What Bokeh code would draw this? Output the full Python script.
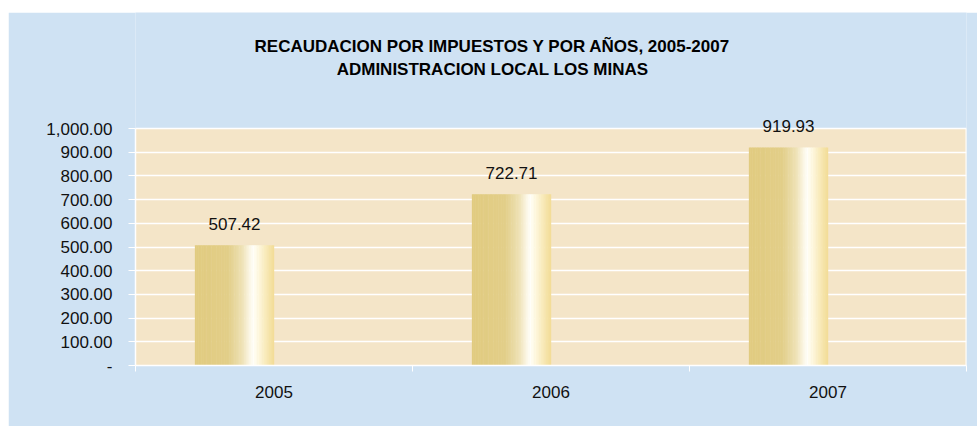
from bokeh.plotting import figure
from bokeh.models import (ColumnDataSource, Range1d, FactorRange, FixedTicker, LinearAxis,
                          CategoricalAxis, Label, LabelSet, BoxAnnotation)
from bokeh.transform import dodge
from bokeh.core.properties import value
from bokeh.embed import file_html
from bokeh.resources import INLINE

# ---- data ----
years = ["2005", "2006", "2007"]
amounts = [507.42, 722.71, 919.93]
y_ticks = [0, 100, 200, 300, 400, 500, 600, 700, 800, 900, 1000]
title_lines = ["RECAUDACION POR IMPUESTOS Y POR AÑOS, 2005-2007",
               "ADMINISTRACION LOCAL LOS MINAS"]

labels = [f"{v:,.2f}" for v in amounts]
src = ColumnDataSource(dict(year=years, amount=amounts, label=labels))

FONT = "Liberation Sans"
BLUE = "#CFE2F3"
PLOT_BG = "#F4E5C8"

# layout (pixels)
W, H = 969, 414
LEFT, RIGHT, BOTTOM = 127, 11, 61
PLOT_PX = 237          # height of the 0..max-tick plot area
TOP_PX = H - BOTTOM - PLOT_PX   # blue space above the plot area (holds the titles)
y_max = y_ticks[-1]
y_end = y_max * (PLOT_PX + TOP_PX) / PLOT_PX


def px_from_top(px):
    return y_end - px * y_max / PLOT_PX


p = figure(width=W, height=H, x_range=FactorRange(*years, range_padding=0),
           y_range=Range1d(0, y_end), output_backend="svg", toolbar_location=None,
           x_axis_location=None, y_axis_location=None,
           min_border_left=LEFT, min_border_right=RIGHT, min_border_top=0,
           min_border_bottom=BOTTOM)
p.margin = (12, 0, 0, 8)
p.background_fill_color = BLUE
p.border_fill_color = BLUE
p.outline_line_color = None

# beige plot area (0..max tick), drawn beneath grid and bars
area = BoxAnnotation(bottom=0, top=y_max, fill_color=PLOT_BG, fill_alpha=1,
                     line_color=None, level="underlay")
p.center = [area] + list(p.center)

# titles
for txt, px in zip(title_lines, [33.5, 56.5]):
    p.add_layout(Label(x=357, x_units="screen", y=px_from_top(px), text=txt,
                       text_align="center", text_baseline="middle", text_font=FONT,
                       text_font_size="17px", text_font_style="bold", text_color="black"))

# y axis
yax = LinearAxis(ticker=FixedTicker(ticks=y_ticks), bounds=(0, y_max))
yax.major_label_overrides = {tk: ("-" if tk == 0 else f"{tk:,.2f}") for tk in y_ticks}
yax.axis_line_color = "white"
yax.axis_line_width = 1.5
yax.major_tick_line_color = "white"
yax.major_tick_out = 7
yax.major_tick_in = 0
yax.minor_tick_line_color = None
yax.major_label_text_font = FONT
yax.major_label_text_font_size = "17px"
yax.major_label_text_color = "#111111"
yax.major_label_standoff = 16
p.add_layout(yax, "left")

p.ygrid.grid_line_color = "white"
p.ygrid.grid_line_width = 1.5
p.ygrid.ticker = FixedTicker(ticks=y_ticks)
p.xgrid.grid_line_color = None

# right border of plot area
p.segment(x0=[len(years)], y0=[0], x1=[len(years)], y1=[y_max],
          line_color="white", line_width=2)

# x axis: boundary ticks (synthetic category coordinates) + category labels
bounds = list(range(len(years) + 1))
bx = LinearAxis(ticker=FixedTicker(ticks=bounds))
bx.major_label_overrides = {i: "" for i in bounds}
bx.major_label_text_font_size = "1px"
bx.major_label_standoff = 0
bx.axis_line_color = "white"
bx.axis_line_width = 1.5
bx.major_tick_line_color = "white"
bx.major_tick_out = 6
bx.major_tick_in = 0
bx.minor_tick_line_color = None
p.add_layout(bx, "below")

cx = CategoricalAxis()
cx.axis_line_color = None
cx.major_tick_line_color = None
cx.major_label_text_font = FONT
cx.major_label_text_font_size = "17px"
cx.major_label_text_color = "#111111"
cx.major_label_standoff = 8
p.add_layout(cx, "below")

# gradient bars built from vertical strips
BAR_W = 0.285
stops = [(0.0, (225, 203, 128)), (0.42, (226, 206, 136)), (0.60, (238, 226, 182)),
         (0.70, (252, 248, 232)), (0.74, (255, 254, 248)), (0.80, (254, 248, 225)),
         (0.90, (248, 234, 185)), (1.0, (242, 219, 148))]


def col_at(f):
    for (f0, c0), (f1, c1) in zip(stops[:-1], stops[1:]):
        if f0 <= f <= f1:
            u = (f - f0) / (f1 - f0) if f1 > f0 else 0
            return "#%02x%02x%02x" % tuple(int(round(a + (b - a) * u)) for a, b in zip(c0, c1))
    return "#%02x%02x%02x" % stops[-1][1]


N = 48
sw = BAR_W / N
for i in range(N):
    f = (i + 0.5) / N
    off = -BAR_W + (i + 0.5) * sw
    p.vbar(x=dodge("year", off, range=p.x_range), top="amount", bottom=0,
           width=sw * 1.25, fill_color=col_at(f), line_color=None, source=src)

lbl = LabelSet(x=dodge("year", -BAR_W / 2, range=p.x_range), y="amount", text="label",
               source=src, text_align="center", text_baseline="middle", y_offset=21,
               text_font=value(FONT), text_font_size="17px", text_color="#111111")
p.add_layout(lbl)

open("out.html", "w").write(file_html(p, INLINE))
